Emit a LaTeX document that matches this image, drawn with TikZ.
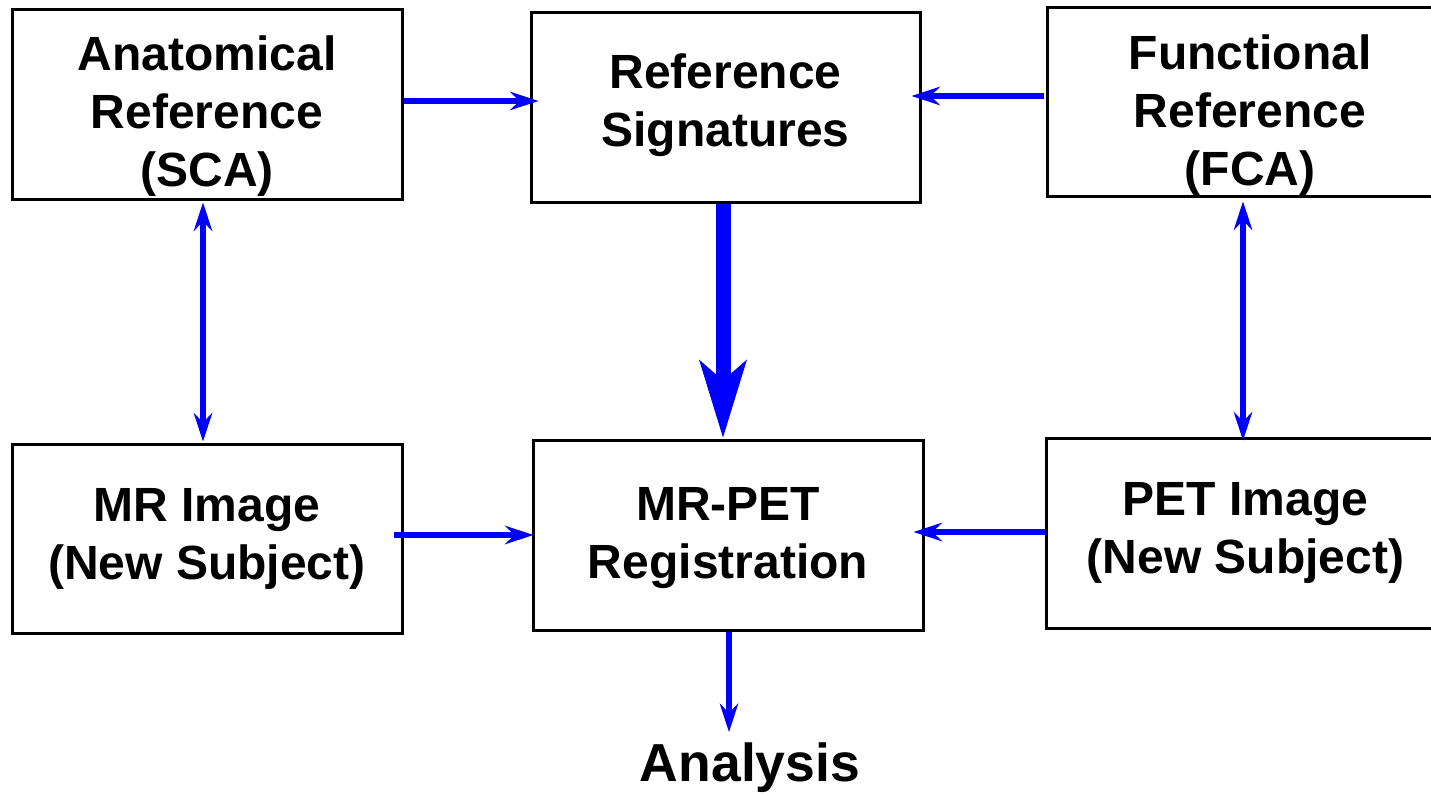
\documentclass[tikz,border=0pt]{standalone}
\usepackage{fontspec}
\setmainfont{Liberation Sans}
\usetikzlibrary{arrows.meta}
\definecolor{flowblue}{RGB}{0,0,255}
% invisible rules that nudge a multi-line label up or down inside its box
\newcommand{\topstrut}[1]{\rule{0pt}{#1}}
\newcommand{\botstrut}[1]{\rule[-#1]{0pt}{0pt}}
\begin{document}
\begin{tikzpicture}[x=1pt,y=-1pt,
  box/.style={draw=black, line width=3pt, inner sep=0pt, align=center,
    font=\fontsize{48}{58}\selectfont\bfseries},
  link/.style={draw=flowblue, line width=6pt, -{Stealth[length=29pt,width=19pt,inset=10pt,line width=0pt]}},
  dlink/.style={draw=flowblue, line width=6pt,
    {Stealth[length=29pt,width=19pt,inset=10pt,line width=0pt]}-{Stealth[length=29pt,width=19pt,inset=10pt,line width=0pt]}},
  mainlink/.style={draw=flowblue, line width=15pt, -{Stealth[length=78pt,width=48pt,inset=21pt,line width=0pt]}}]
\useasboundingbox (0,0) rectangle (1431,794);
\clip (0,0) rectangle (1431,794);
\fill[white] (0,0) rectangle (1431,794);

% boxes
\node[box, minimum width=390pt, minimum height=190pt] (anat) at (207,105)
  {\topstrut{56pt}Anatomical\\Reference\\(SCA)};
\node[box, minimum width=389pt, minimum height=190pt] (refsig) at (725.5,108)
  {Reference\\Signatures\botstrut{16pt}};
\node[box, minimum width=406pt, minimum height=189pt] (func) at (1250,102.5)
  {\topstrut{59pt}Functional\\Reference\\(FCA)};
\node[box, minimum width=390pt, minimum height=189pt] (mr) at (207,538.5)
  {MR Image\\(New Subject)};
\node[box, minimum width=390pt, minimum height=190pt] (mrpet) at (728,535)
  {\topstrut{39pt}MR-PET\\Registration};
\node[box, minimum width=399pt, minimum height=190pt] (pet) at (1245.5,533)
  {PET Image\\(New Subject)};
\node[font=\fontsize{53.5}{62}\selectfont\bfseries, inner sep=0pt] (analysis) at (750,768) {Analysis};
\coordinate (anatip) at (729,732);

% connectors
\draw[link] ([yshift=4pt]anat.east) -- ([xshift=9pt,yshift=7pt]refsig.west);
\draw[link] ([xshift=-2pt,yshift=6.5pt]func.west) -- ([xshift=-10pt,yshift=12pt]refsig.east);
\draw[dlink] ([xshift=-4pt,yshift=-1pt]anat.south) -- ([xshift=-4pt,yshift=1pt]mr.north);
\draw[dlink] ([xshift=-7pt,yshift=-3pt]func.south) -- ([xshift=-2.5pt,yshift=-4pt]pet.north);
\draw[link] ([xshift=-10pt,yshift=3.5pt]mr.east) -- ([xshift=2pt]mrpet.west);
\draw[link] ([xshift=1pt,yshift=1pt]pet.west) -- ([xshift=-11pt,yshift=3pt]mrpet.east);
\draw[mainlink] ([xshift=-2.5pt]refsig.south) -- ([xshift=-5pt,yshift=1pt]mrpet.north);
\draw[link] ([xshift=1pt]mrpet.south) -- (anatip);
\end{tikzpicture}
\end{document}
